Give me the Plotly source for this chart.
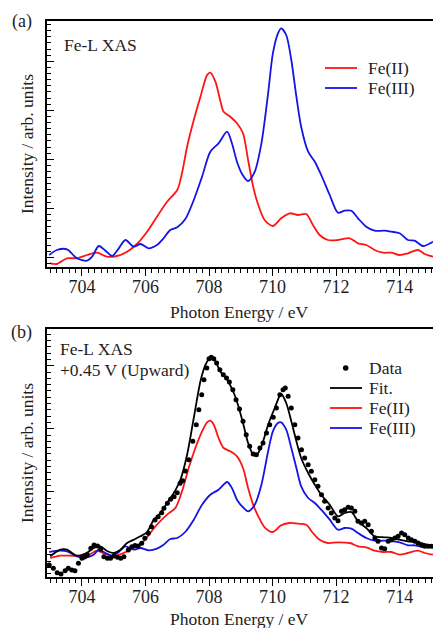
import plotly.graph_objects as go

# ---------------- data (arbitrary intensity units) ----------------
# Panel (a)
top_fe2_e = [703.0, 703.2, 703.53, 703.84, 704.16, 704.47, 704.79, 705.1, 705.42, 705.73, 706.05, 706.36, 706.68, 707.0, 707.15, 707.31, 707.52, 707.73, 707.94, 708.04, 708.2, 708.35, 708.46, 708.67, 708.88, 709.07, 709.23, 709.39, 709.55, 709.75, 710.01, 710.27, 710.54, 710.8, 711.06, 711.27, 711.48, 711.74, 712.06, 712.43, 712.69, 712.95, 713.21, 713.48, 713.74, 714.0, 714.26, 714.58, 714.79, 715.05]
top_fe2_i = [3.7, 3.0, 8.7, 8.7, 12, 14.3, 10.3, 11, 15.3, 23, 35.3, 50.3, 65.3, 77, 94, 120.3, 147, 170.3, 192, 194.3, 185.3, 167, 155.3, 150.3, 143.7, 133.7, 107, 80.3, 62, 47, 41, 48.7, 53.7, 52, 53, 42, 32, 27, 27, 28.7, 23.7, 22, 17, 14.3, 14.3, 12, 13.7, 17, 13, 10.3]

top_fe3_e = [702.97, 703.21, 703.53, 703.84, 704.16, 704.32, 704.53, 704.74, 704.95, 705.16, 705.37, 705.63, 705.84, 706.1, 706.36, 706.57, 706.78, 707.0, 707.25, 707.52, 707.78, 708.04, 708.3, 708.57, 708.72, 708.88, 709.04, 709.23, 709.44, 709.65, 709.86, 710.01, 710.17, 710.27, 710.43, 710.59, 710.75, 710.9, 711.12, 711.33, 711.53, 711.8, 712.06, 712.27, 712.48, 712.69, 712.95, 713.21, 713.53, 713.74, 714.0, 714.26, 714.47, 714.73, 715.05]
top_fe3_i = [12, 17, 17.7, 8.7, 6.3, 10.3, 21, 16.3, 11, 18.7, 27, 20.3, 23, 18.7, 22, 28.7, 37, 39.7, 47.7, 67, 90.3, 115.3, 123.7, 135.3, 123.7, 105.3, 93, 86, 95.3, 123.7, 173.7, 213.7, 233.7, 238.7, 232, 207, 170.3, 140.3, 115.3, 105.3, 92, 72, 54.3, 56.3, 56.3, 48.7, 40.3, 36.3, 36.3, 35.3, 33.7, 27, 26.3, 21, 25.3]

# Panel (b)
bot_fe2_e = [703.0, 703.32, 703.63, 703.95, 704.26, 704.47, 704.74, 705.0, 705.31, 705.63, 705.94, 706.15, 706.36, 706.68, 706.94, 707.15, 707.36, 707.57, 707.78, 707.94, 708.04, 708.15, 708.3, 708.46, 708.67, 708.88, 709.07, 709.23, 709.39, 709.55, 709.75, 710.01, 710.27, 710.54, 710.8, 711.06, 711.27, 711.48, 711.74, 712.06, 712.43, 712.69, 712.95, 713.21, 713.48, 713.74, 714.0, 714.26, 714.58, 714.79, 715.05]
bot_fe2_i = [19, 21.3, 21.3, 21.3, 23, 26.3, 23, 21, 24, 29, 35.7, 44, 52.3, 62.3, 69, 85.7, 109, 129, 145.7, 154.7, 156.3, 152.3, 139, 129, 125.7, 120.7, 109, 89, 72.3, 60.7, 49.7, 45, 51.7, 54, 53.3, 52.3, 44, 37.3, 34, 34.7, 34, 30.7, 29.7, 26.3, 25, 25, 22.3, 24, 26.3, 24, 22.3]

bot_fe3_e = [702.97, 703.27, 703.53, 703.84, 704.16, 704.37, 704.53, 704.74, 704.95, 705.16, 705.37, 705.63, 705.84, 706.1, 706.36, 706.57, 706.78, 707.0, 707.25, 707.52, 707.78, 708.04, 708.3, 708.57, 708.72, 708.88, 709.04, 709.23, 709.44, 709.65, 709.86, 710.01, 710.17, 710.27, 710.43, 710.59, 710.75, 710.9, 711.12, 711.33, 711.53, 711.8, 712.06, 712.27, 712.48, 712.69, 712.95, 713.21, 713.53, 713.74, 714.0, 714.26, 714.47, 714.73, 715.05]
bot_fe3_i = [25, 26.3, 25.7, 20.7, 19.7, 22.3, 27.3, 24, 21.3, 25, 30.7, 27.3, 29, 26.7, 28.3, 32.3, 38, 39, 45, 57.3, 72.3, 82.3, 87.3, 95, 89, 77.3, 70.7, 65.7, 72.3, 92.3, 125.7, 145.7, 154, 154.7, 147.3, 129, 109, 90.7, 79, 74, 67.3, 57.3, 47.3, 49, 48.3, 44, 39, 36.3, 36.3, 35.7, 34.7, 31.7, 31.7, 30, 30.7]

fit_e = [703.0, 703.32, 703.53, 703.84, 704.16, 704.37, 704.58, 704.79, 705.0, 705.21, 705.42, 705.63, 705.84, 706.05, 706.26, 706.47, 706.68, 706.89, 707.1, 707.31, 707.52, 707.73, 707.89, 708.04, 708.2, 708.35, 708.57, 708.78, 708.91, 709.07, 709.23, 709.39, 709.49, 709.65, 709.86, 710.07, 710.27, 710.43, 710.59, 710.75, 710.9, 711.12, 711.33, 711.53, 711.8, 712.06, 712.27, 712.48, 712.69, 712.95, 713.21, 713.53, 713.74, 714.0, 714.26, 714.47, 714.73, 715.05]
fit_i = [20.7, 27.3, 27.3, 21.3, 24.3, 29, 30.7, 26, 24, 27.3, 34, 37.3, 40.7, 45, 57.3, 64, 74, 84, 97.3, 122.3, 159, 195.7, 212.3, 219.7, 215.7, 205.7, 197.3, 184, 172.3, 154, 134, 122.3, 121.7, 130.7, 152.3, 169, 183, 174, 155.7, 135.7, 119, 104, 92.3, 82.3, 72.3, 60.7, 64, 65, 55.7, 49, 40.7, 39.7, 39, 37.3, 35.7, 35, 33.3, 31]

data_e = [702.97, 703.1, 703.22, 703.34, 703.47, 703.57, 703.68, 703.78, 703.89, 704.0, 704.08, 704.17, 704.28, 704.38, 704.49, 704.59, 704.69, 704.8, 704.9, 705.01, 705.12, 705.22, 705.32, 705.46, 705.57, 705.67, 705.77, 705.88, 705.98, 706.09, 706.19, 706.3, 706.4, 706.51, 706.58, 706.69, 706.79, 706.9, 707.0, 707.09, 707.17, 707.25, 707.36, 707.49, 707.6, 707.68, 707.77, 707.84, 707.93, 708.0, 708.07, 708.15, 708.24, 708.34, 708.45, 708.55, 708.64, 708.75, 708.85, 708.96, 709.07, 709.17, 709.28, 709.39, 709.49, 709.6, 709.7, 709.81, 709.91, 710.02, 710.12, 710.23, 710.33, 710.4, 710.49, 710.59, 710.7, 710.8, 710.91, 711.01, 711.12, 711.22, 711.33, 711.43, 711.54, 711.64, 711.75, 711.85, 711.96, 712.06, 712.17, 712.27, 712.38, 712.48, 712.59, 712.69, 712.8, 712.9, 713.01, 713.11, 713.22, 713.32, 713.43, 713.53, 713.64, 713.74, 713.85, 713.95, 714.06, 714.16, 714.27, 714.37, 714.48, 714.58, 714.69, 714.79, 714.9, 715.0]
data_i = [12, 8.7, 4.3, 3, 6.3, 8.7, 7, 6.3, 13.7, 18.7, 20, 22, 28.7, 32, 31, 27.7, 20.3, 18.7, 18.7, 21, 19.7, 18.7, 20.3, 27, 30.3, 31.5, 31, 33.7, 38.7, 43.7, 50.3, 57, 60.3, 64.3, 68.7, 73.7, 77.7, 80.3, 84.3, 93.7, 96.3, 106, 117.3, 135.7, 152.3, 167.3, 182.3, 197.3, 209, 218.3, 219.7, 218.3, 214, 207.3, 202.3, 199, 195, 187.3, 177.3, 168, 155.7, 142.3, 130.7, 123, 122.3, 129, 134, 144, 152.3, 159.7, 169, 182.3, 187.3, 189, 180.7, 169, 152.3, 139, 127.3, 119, 112.3, 105.7, 97.3, 90.7, 82.3, 75.7, 69, 64, 59, 56.3, 65.7, 67.3, 69.7, 69, 65.7, 55.7, 54, 55.7, 52.3, 45.7, 39, 35.7, 29, 28.3, 35.7, 37.3, 39, 40.7, 44, 42.3, 39, 37.3, 35.7, 34, 32.3, 30.7, 30.7, 30.7]

x_ticks = [704, 706, 708, 710, 712, 714]

legend_a = ["Fe(II)", "Fe(III)"]
legend_b = ["Data", "Fit.", "Fe(II)", "Fe(III)"]

# ---------------- style ----------------
W, H = 433, 628
FONT = "Liberation Serif, Times New Roman, serif"
TXT = "#1e1e1e"
RED = "#ff1414"
BLUE = "#1414e6"
LW = 1.8

def px(x):
    return x / W

def py(y):
    return 1 - y / H

fig = go.Figure()

def line_trace(x, y, name, color, xa, ya):
    return go.Scatter(x=x, y=y, mode="lines", name=name, showlegend=False,
                      line=dict(color=color, width=LW, shape="spline", smoothing=0.8),
                      xaxis=xa, yaxis=ya)

fig.add_trace(line_trace(top_fe2_e, top_fe2_i, "Fe(II)", RED, "x", "y"))
fig.add_trace(line_trace(top_fe3_e, top_fe3_i, "Fe(III)", BLUE, "x", "y"))
fig.add_trace(line_trace(bot_fe2_e, bot_fe2_i, "Fe(II)", RED, "x2", "y2"))
fig.add_trace(line_trace(bot_fe3_e, bot_fe3_i, "Fe(III)", BLUE, "x2", "y2"))
fig.add_trace(line_trace(fit_e, fit_i, "Fit.", "black", "x2", "y2"))
fig.add_trace(go.Scatter(x=data_e, y=data_i, mode="markers", name="Data", showlegend=False,
                         marker=dict(color="black", size=5), xaxis="x2", yaxis="y2"))

xdom = [px(47), 1.0]
xaxis_common = dict(
    range=[702.9, 715.05], tickvals=x_ticks, ticks="outside", ticklen=7, tickwidth=1.2,
    tickcolor="black", showline=True, linecolor="black", linewidth=1.6, mirror=True,
    showgrid=False, zeroline=False, ticklabelstandoff=-4,
    tickfont=dict(family=FONT, size=18, color=TXT),
    minor=dict(dtick=0.2, tick0=703, ticks="outside", ticklen=4, tickwidth=1, tickcolor="black", showgrid=False),
    domain=xdom,
)
yaxis_common = dict(showticklabels=False, ticks="inside", ticklen=7, tickwidth=1.2, tickcolor="black",
                    showline=True, linecolor="black", linewidth=1.6, showgrid=False, zeroline=False)
fig.update_layout(
    width=W, height=H,
    margin=dict(l=0, r=0, t=0, b=0),
    paper_bgcolor="white", plot_bgcolor="white",
    font=dict(family=FONT, size=17, color=TXT),
    showlegend=False,
    xaxis=dict(**xaxis_common, anchor="y"),
    xaxis2=dict(**xaxis_common, anchor="y2"),
    yaxis=dict(**yaxis_common, domain=[py(267), py(21)], range=[0, 246], anchor="x",
               tick0=9.7, dtick=49,
               minor=dict(dtick=6.125, tick0=9.7, ticks="inside", ticklen=4, tickwidth=1, tickcolor="black", showgrid=False)),
    yaxis2=dict(**yaxis_common, domain=[py(577), py(329)], range=[0, 248], anchor="x2",
                tick0=22.3, dtick=63,
                minor=dict(dtick=6.3, tick0=22.3, ticks="inside", ticklen=4, tickwidth=1, tickcolor="black", showgrid=False)),
)

ann = []
def text(t, x, y, xanchor="center", yanchor="middle", angle=0, size=17):
    ann.append(dict(text=t, x=px(x), y=py(y), xref="paper", yref="paper",
                    xanchor=xanchor, yanchor=yanchor, showarrow=False, textangle=angle,
                    font=dict(family=FONT, size=size, color=TXT)))

text("(a)", 21.5, 21, size=18)
text("(b)", 21.5, 332, size=18)
text("Fe-L XAS", 62, 45, xanchor="left", size=17.5)
text("Fe-L XAS", 58, 349, xanchor="left", size=17.5)
text("+0.45 V (Upward)", 58, 370, xanchor="left", size=17.5)
text("Photon Energy / eV", 240, 312, size=17.5)
text("Photon Energy / eV", 240, 619, size=17.5)
text("Intensity / arb. units", 27, 144, angle=-90, size=17.5)
text("Intensity / arb. units", 27, 453, angle=-90, size=17.5)

# legend keys (drawn as paper-space samples)
shapes = []
def key_line(x0, x1, y, color):
    shapes.append(dict(type="line", xref="paper", yref="paper", x0=px(x0), x1=px(x1),
                       y0=py(y), y1=py(y), line=dict(color=color, width=LW)))

key_colors_a = [RED, BLUE]
for i, name in enumerate(legend_a):
    yy = 68 + 20 * i
    key_line(325, 357, yy, key_colors_a[i])
    text(name, 366, yy, xanchor="left", size=17.5)

key_colors_b = [None, "black", RED, BLUE]
for i, name in enumerate(legend_b):
    yy = 368 + 20 * i
    if key_colors_b[i] is None:
        shapes.append(dict(type="circle", xref="paper", yref="paper",
                           x0=px(345.7 - 2.8), x1=px(345.7 + 2.8), y0=py(yy + 2.8), y1=py(yy - 2.8),
                           fillcolor="black", line=dict(color="black", width=0)))
    else:
        key_line(330, 362, yy, key_colors_b[i])
    text(name, 367, yy, xanchor="left", size=17.5)

fig.update_layout(annotations=ann, shapes=shapes)

fig.write_html("out.html", config={"displayModeBar": False},
               post_script="document.body.style.margin='0px';document.body.style.overflow='hidden';")
